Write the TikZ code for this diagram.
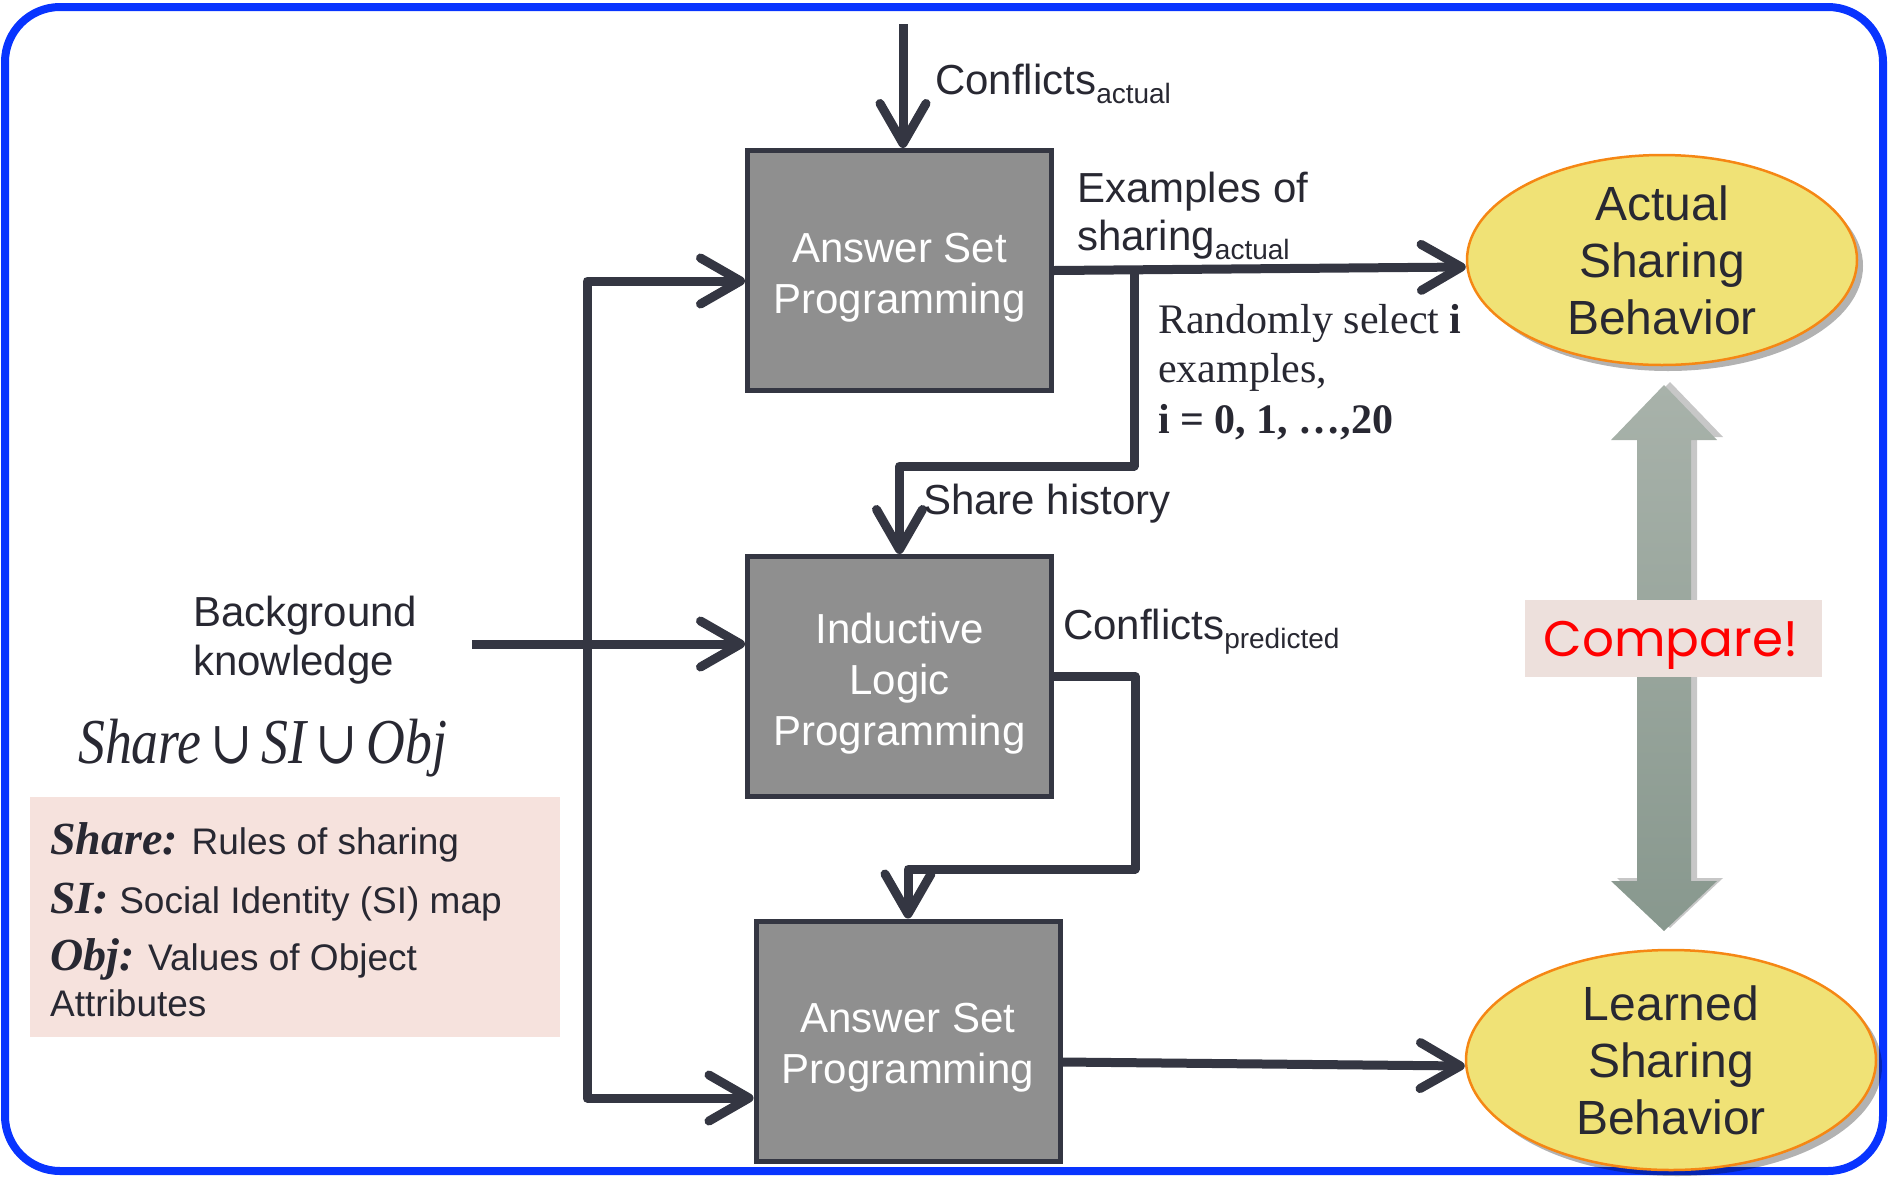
\documentclass[tikz,border=0pt]{standalone}
\usepackage{fontspec}
\usepackage{graphicx}
\setmainfont{Liberation Sans}
\newfontfamily\serifface{Liberation Serif}
\newfontfamily\handface{Poppins}
\newfontfamily\symface{DejaVu Serif}
\usetikzlibrary{arrows.meta,shapes.geometric,shadows,calc}

\definecolor{frameblue}{RGB}{8,52,255}
\definecolor{ink}{RGB}{52,54,66}
\definecolor{textdark}{RGB}{40,40,50}
\definecolor{boxgray}{RGB}{143,143,143}
\definecolor{ovalfill}{RGB}{240,226,118}
\definecolor{ovaledge}{RGB}{245,135,20}
\definecolor{notepink}{RGB}{246,226,221}
\definecolor{tagpink}{RGB}{237,224,220}
\definecolor{arrowtop}{RGB}{168,178,170}
\definecolor{arrowbot}{RGB}{136,152,142}

% lowered small text used as a subscript
\newcommand\lowtext[1]{\raisebox{-9pt}{\fontsize{28}{28}\selectfont #1}}
% union sign set upright
\newcommand\unionsign{{\symface\upshape\fontsize{60}{60}\selectfont ∪}}

\begin{document}
\begin{tikzpicture}[x=1pt,y=-1pt,
  barbtip/.tip={Straight Barb[length=40pt,width=46pt,round]},
  procbox/.style={draw=ink, line width=5pt, fill=boxgray, minimum width=304pt,
    minimum height=240pt, inner sep=0pt},
  boxtext/.style={text=white, align=center, inner sep=0pt, yshift=-7pt,
    font=\fontsize{42}{51}\selectfont},
  oval/.style={ellipse, draw=ovaledge, line width=2.5pt, fill=ovalfill, inner sep=0pt,
    drop shadow={shadow xshift=6pt, shadow yshift=-6pt, opacity=0.3, fill=black}},
  ovaltext/.style={text=textdark, align=center, inner sep=0pt,
    font=\fontsize{48}{57}\selectfont},
  conn/.style={draw=ink, line width=9pt, line join=round, -barbtip},
  lbl/.style={anchor=base west, inner sep=0pt, text=textdark,
    font=\fontsize{42}{51}\selectfont},
  serlbl/.style={lbl, font=\serifface\fontsize{42}{50}\selectfont},
  notelbl/.style={lbl, font=\fontsize{37}{44}\selectfont}
]
\useasboundingbox (0,0) rectangle (1888,1176);

% outer frame
\draw[frameblue, line width=8pt, rounded corners=55pt] (5,7) rectangle (1883,1171);

% processing blocks
\node[procbox, label={[boxtext]center:Answer Set\\Programming}] (asp1) at (899.5,270.5) {};
\node[procbox, label={[boxtext]center:Inductive\\Logic\\Programming}] (ilp) at (899.5,676.5) {};
\node[procbox, label={[boxtext]center:Answer Set\\Programming}] (asp2) at (908,1041) {};

% behaviour ovals
\node[oval, minimum width=390pt, minimum height=210pt] (actual) at (1662,260) {};
\node[ovaltext] (actualtext) at (actual.center) {Actual\\Sharing\\Behavior};
\node[oval, minimum width=410pt, minimum height=220pt] (learned) at (1671,1060) {};
\node[ovaltext] (learnedtext) at (learned.center) {Learned\\Sharing\\Behavior};

% comparison double arrow with its shadow
\fill[black, opacity=0.22, xshift=6pt, yshift=3pt]
  (1664,385) -- (1717,440) -- (1691,440) -- (1691,881) -- (1717,881) -- (1664,931)
  -- (1611,881) -- (1637,881) -- (1637,440) -- (1611,440) -- cycle;
\shade[top color=arrowtop, bottom color=arrowbot]
  (1664,385) -- (1717,440) -- (1691,440) -- (1691,881) -- (1717,881) -- (1664,931)
  -- (1611,881) -- (1637,881) -- (1637,440) -- (1611,440) -- cycle;
\node[fill=tagpink, minimum width=297pt, minimum height=77pt, inner sep=0pt] (tag) at (1673.5,638.5) {};
\node[anchor=base, inner sep=0pt, text=red, font=\handface\fontsize{50}{50}\selectfont] (tagtext) at (1671,656) {Compare!};

% connectors
\coordinate (topin) at (903,24);
\coordinate (fork)  at (1134,270.5);
\coordinate (bend1) at (1134,466);
\coordinate (bend2) at (1135,869);
\coordinate (bustop) at (587,281);
\coordinate (busbot) at (587,1098);
\coordinate (bgin) at (472,644);

\draw[conn] (topin) -- (topin |- asp1.north);
\draw[conn] (asp1.east) -- ($(actual.west)+(0,7)$);
\draw[conn] (fork) -- (bend1) -| (ilp.north);
\draw[conn] (ilp.east) -| (bend2) -| (asp2.north);
\draw[conn] (asp2.east |- 0,1062) -- ($(learned.west)+(0,6)$);
\draw[conn, barbtip-barbtip] (bustop -| asp1.west) -- (bustop) -- (busbot) -- (busbot -| asp2.west);
\draw[conn] (bgin) -- (bgin -| ilp.west);

% connector labels
\node[lbl] (cfa) at (935,94) {Conflicts\lowtext{actual}};
\node[lbl] (ex1) at (1077,202) {Examples of};
\node[lbl] (ex2) at (1077,250) {sharing\lowtext{actual}};
\node[serlbl] (rs1) at (1158,333) {Randomly select \textbf{i}};
\node[serlbl] (rs2) at (1158,382) {examples,};
\node[serlbl] (rs3) at (1158,433) {\textbf{i = 0, 1, …,20}};
\node[lbl] (shh) at (923,514) {Share history};
\node[lbl] (cfp) at (1063,639) {Conflicts\lowtext{predicted}};

% background knowledge
\node[lbl] (bg1) at (193,626) {Background};
\node[lbl] (bg2) at (193,675) {knowledge};
\node[lbl, font=\serifface\itshape\fontsize{64}{64}\selectfont] (formula) at (78,763)
  {\scalebox{0.84}[1]{Share\,\unionsign\,SI\,\unionsign\,Obj}};

\node[fill=notepink, minimum width=530pt, minimum height=240pt, anchor=north west, inner sep=0pt] (note) at (30,797) {};
\node[notelbl] (n1) at (50,854) {{\serifface\bfseries\itshape\fontsize{46}{46}\selectfont Share:} Rules of sharing};
\node[notelbl] (n2) at (50,913) {{\serifface\bfseries\itshape\fontsize{46}{46}\selectfont SI:} Social Identity (SI) map};
\node[notelbl] (n3) at (50,970) {{\serifface\bfseries\itshape\fontsize{46}{46}\selectfont Obj:} Values of Object};
\node[notelbl] (n4) at (50,1016) {Attributes};
\end{tikzpicture}
\end{document}
